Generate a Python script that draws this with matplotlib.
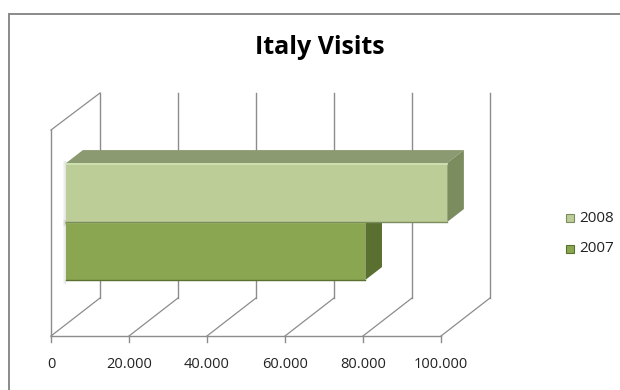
import matplotlib
matplotlib.use("Agg")
import matplotlib.pyplot as plt
from matplotlib.patches import Polygon, Rectangle

# ---- data ----
title = "Italy Visits"
series = ["2007", "2008"]
values = [76700, 97700]
ticks = [0, 20000, 40000, 60000, 80000, 100000]
tick_labels = ["0", "20.000", "40.000", "60.000", "80.000", "100.000"]

front_col = {"2008": "#bccd98", "2007": "#8aa650"}
top_col = {"2008": "#8c9a72", "2007": "#6f8a3e"}
side_col = {"2008": "#7b8c5e", "2007": "#5a7030"}
edge_hi = {"2008": "#d2e3b4", "2007": "#9cb860"}

W, H = 620, 390
fig = plt.figure(figsize=(W / 100, H / 100), dpi=100)
ax = fig.add_axes([0, 0, 1, 1])
ax.set_axis_off()

# value axis mapping: 0 -> 51px, 100000 -> 441px
px_per_val = 390 / 100000
x0_px = 51


def px2v(px):
    return (px - x0_px) / px_per_val


ax.set_xlim(px2v(0), px2v(W))
ax.set_ylim(H, 0)

DX = 49 / px_per_val      # depth offset in value units
DY = -38                  # depth offset in pixels
floor_front, floor_back = 336, 298
wall_top_front, wall_top_back = 130, 93
grid_col = "#8c8c8c"

# chart frame
ax.plot([px2v(9), px2v(W)], [14, 14], color="#8a8a8a", lw=1.4, zorder=1)
ax.plot([px2v(9), px2v(9)], [14, H], color="#8a8a8a", lw=1.4, zorder=1)

# back gridlines and floor lines
for t in ticks:
    ax.plot([t + DX, t + DX], [wall_top_back, floor_back], color=grid_col, lw=1, zorder=2)
    ax.plot([t, t + DX], [floor_front, floor_back], color=grid_col, lw=0.9, zorder=2)
    ax.plot([t, t], [floor_front, floor_front + 6], color=grid_col, lw=1, zorder=2)
# front floor line and left wall
ax.plot([0, ticks[-1]], [floor_front, floor_front], color=grid_col, lw=1, zorder=2)
ax.plot([0, 0], [wall_top_front, floor_front], color=grid_col, lw=1, zorder=2)
ax.plot([0, DX], [wall_top_front, wall_top_back], color=grid_col, lw=0.9, zorder=2)

# tick labels
for t, lab in zip(ticks, tick_labels):
    ax.text(t, 365, lab, ha="center", va="center", fontsize=10.5,
            family="Open Sans", color="#222222", zorder=5)

# bars
f0 = 0.31        # bar front depth fraction
f1 = 0.65        # bar back depth fraction
bar_rows = {"2008": (163, 222), "2007": (222, 280)}
bdx = (f1 - f0) * DX
bdy = (f1 - f0) * DY
for name, val in zip(series, values):
    top, bot = bar_rows[name]
    xs = f0 * DX
    xe = xs + val
    # shadow at left
    for i, a in enumerate([0.10, 0.07, 0.04]):
        ax.add_patch(Rectangle((xs - (i + 1) * 1.1 / px_per_val, top - 2), 1.1 / px_per_val,
                               bot - top + 6, color="#000000", alpha=a, lw=0, zorder=3))
    # top face
    ax.add_patch(Polygon([(xs, top), (xe, top), (xe + bdx, top + bdy), (xs + bdx, top + bdy)],
                         closed=True, facecolor=top_col[name], edgecolor="none", zorder=4))
    # side face
    ax.add_patch(Polygon([(xe, top), (xe + bdx, top + bdy), (xe + bdx, bot + bdy), (xe, bot)],
                         closed=True, facecolor=side_col[name], edgecolor="none", zorder=4))
    # front face
    ax.add_patch(Polygon([(xs, top), (xe, top), (xe, bot), (xs, bot)],
                         closed=True, facecolor=front_col[name], edgecolor="none", zorder=4.5))
    ax.plot([xs, xe], [top + 1, top + 1], color=edge_hi[name], lw=1.2, zorder=4.6)
    ax.plot([xs, xe], [bot - 0.5, bot - 0.5], color=side_col[name], lw=1, zorder=4.6)

# title
ax.text(px2v(320), 48, title, ha="center", va="center", fontsize=18, fontweight="bold",
        family="Open Sans", color="#000000", zorder=5)

# legend
leg_y = {"2008": 218, "2007": 249}
sq = 8 / px_per_val
for name in ["2008", "2007"]:
    y = leg_y[name]
    ax.add_patch(Rectangle((px2v(566), y - 4), sq, 8,
                           facecolor=front_col[name], edgecolor=side_col[name], lw=0.8, zorder=5))
    ax.text(px2v(579), y, name, ha="left", va="center", fontsize=11,
            family="Open Sans", color="#222222", zorder=5)

fig.savefig("out.png", dpi=100, facecolor="white")
